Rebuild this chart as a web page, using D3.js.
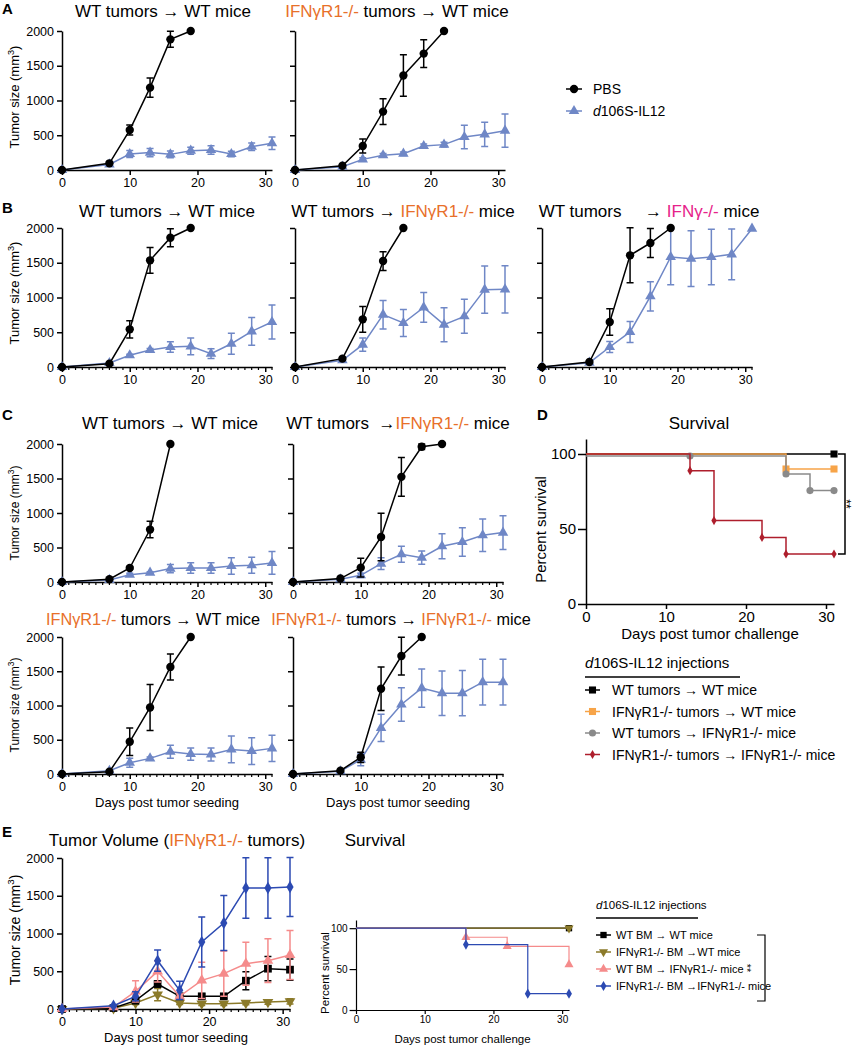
<!DOCTYPE html>
<html>
<head>
<meta charset="utf-8">
<script src="https://cdn.jsdelivr.net/npm/d3@7"></script>
<style>
  body { margin: 0; background: #fff; }
  svg { display: block; font-family: "Liberation Sans", Arial, sans-serif; }
</style>
</head>
<body>
<svg id="fig" width="854" height="1050"></svg>
<script>
// ---- data ----
const days = [0, 7, 10, 13, 16, 19, 22, 25, 28, 31];
const tumorTicksY = [0, 500, 1000, 1500, 2000];
const dayTicks = [0, 10, 20, 30];
const survTicks = [0, 50, 100];

// A: WT tumors -> WT mice / IFNgR1-/- tumors -> WT mice
const a1Pbs = [0, 96, 575, 1185, 1880, 2000];
const a1PbsErr = [0, 15, 72, 140, 115, 0];
const a1Trt = [0, 80, 230, 250, 225, 278, 288, 230, 335, 384];
const a1TrtErr = [0, 15, 50, 60, 50, 50, 60, 40, 55, 90];
const a2Pbs = [0, 62, 345, 840, 1360, 1675, 2000];
const a2PbsErr = [0, 10, 100, 185, 300, 200, 0];
const a2Trt = [0, 48, 153, 211, 235, 345, 365, 475, 513, 566];
const a2TrtErr = [0, 10, 25, 25, 25, 30, 35, 170, 175, 240];

// B
const b1Pbs = [0, 48, 542, 1535, 1860, 2000];
const b1PbsErr = [0, 10, 125, 185, 130, 0];
const b1Trt = [0, 58, 168, 245, 288, 297, 192, 335, 513, 647];
const b1TrtErr = [0, 10, 15, 20, 75, 120, 70, 150, 200, 245];
const b2Pbs = [0, 120, 686, 1525, 2000];
const b2PbsErr = [0, 15, 185, 135, 0];
const b2Trt = [0, 96, 321, 753, 633, 858, 609, 729, 1113, 1117];
const b2TrtErr = [0, 10, 95, 205, 195, 215, 245, 245, 340, 340];
const b3Pbs = [0, 72, 648, 1607, 1784, 2000];
const b3PbsErr = [0, 10, 190, 395, 210, 0];
const b3Trt = [0, 62, 288, 504, 1017, 1583, 1559, 1583, 1621, 1990];
const b3TrtErr = [0, 10, 80, 150, 210, 400, 400, 400, 365, 0];

// C
const c1Pbs = [0, 40, 203, 760, 2000];
const c1PbsErr = [0, 10, 20, 120, 0];
const c1Trt = [0, 30, 106, 135, 194, 203, 203, 232, 242, 276];
const c1TrtErr = [0, 10, 20, 15, 60, 75, 75, 120, 115, 165];
const c2Pbs = [0, 50, 208, 653, 1524, 1960, 2000];
const c2PbsErr = [0, 10, 135, 345, 280, 40, 0];
const c2Trt = [0, 40, 97, 266, 402, 353, 518, 580, 677, 716];
const c2TrtErr = [0, 10, 30, 85, 115, 95, 180, 205, 235, 245];
const c3Pbs = [0, 34, 470, 971, 1563, 2000];
const c3PbsErr = [0, 10, 200, 337, 190, 0];
const c3Trt = [0, 48, 165, 228, 325, 291, 286, 359, 335, 374];
const c3TrtErr = [0, 10, 65, 20, 95, 90, 95, 195, 195, 190];
const c4Pbs = [0, 49, 244, 1244, 1722, 2000];
const c4PbsErr = [0, 10, 75, 317, 275, 0];
const c4Trt = [0, 40, 210, 673, 1015, 1254, 1180, 1180, 1341, 1341];
const c4TrtErr = [0, 10, 90, 200, 245, 280, 325, 330, 335, 335];

// D: survival
const dBlackDays = [0, 31];
const dBlackPct = [100, 100];
const dOrangeDays = [0, 25, 31];
const dOrangePct = [100, 90, 90];
const dGrayDays = [0, 13, 25, 28, 31];
const dGrayPct = [98.7, 98.7, 86.7, 75.6, 75.6];
const dRedDays = [0, 13, 16, 22, 25, 31];
const dRedPct = [100, 88.9, 55.6, 44.4, 33.3, 33.3];
const dLegend = ['WT tumors → WT mice', 'IFNγR1-/- tumors → WT mice',
  'WT tumors → IFNγR1-/- mice', 'IFNγR1-/- tumors → IFNγR1-/- mice'];

// E: bone marrow chimeras, IFNgR1-/- tumors
const eWtWt = [0, 13, 110, 331, 168, 168, 168, 375, 534, 521];
const eWtWtErr = [0, 8, 30, 40, 30, 30, 30, 120, 160, 140];
const eKoWt = [0, 9, 80, 190, 80, 71, 71, 80, 93, 102];
const eKoWtErr = [0, 5, 20, 80, 20, 25, 25, 25, 30, 35];
const eWtKo = [0, 26, 234, 499, 168, 380, 468, 600, 640, 715];
const eWtKoErr = [0, 10, 140, 140, 30, 240, 300, 285, 290, 325];
const eKoKo = [0, 44, 168, 640, 247, 887, 1139, 1603, 1603, 1616];
const eKoKoErr = [0, 10, 60, 140, 120, 330, 365, 400, 400, 390];
const eSurvWtWtDays = [0, 31];
const eSurvWtWtPct = [100, 100];
const eSurvKoWtDays = [0, 31];
const eSurvKoWtPct = [100, 100];
const eSurvWtKoDays = [0, 16, 22, 31];
const eSurvWtKoPct = [100, 88.9, 77.8, 55.6];
const eSurvKoKoDays = [0, 16, 25, 31];
const eSurvKoKoPct = [100, 80, 20, 20];
const eLegend = ['WT BM → WT mice', 'IFNγR1-/- BM →WT mice',
  'WT BM → IFNγR1-/- mice', 'IFNγR1-/- BM →IFNγR1-/- mice'];

// ---- colours ----
const BLACK = '#000';
const BLUE = '#6f87c6';
const ORANGE = '#e8702a';
const MAGENTA = '#e6228a';
const D_ORANGE = '#f7a448';
const D_GRAY = '#8a8a8a';
const D_RED = '#ae1e2c';
const E_BLUE = '#2c4ab2';
const E_PINK = '#f58b8b';
const E_OLIVE = '#8b7a2a';

const svg = d3.select('#fig');

function styleAxis(sel, fontSize, width) {
  sel.select('.domain').attr('stroke', '#000').attr('stroke-width', width);
  sel.selectAll('.tick line').attr('stroke', '#000').attr('stroke-width', width);
  sel.selectAll('.tick text').attr('fill', '#000').attr('font-size', fontSize)
    .attr('font-family', '"Liberation Sans", Arial, sans-serif');
}

function richText(parent, x, y, parts, size, anchor) {
  const t = parent.append('text').attr('x', x).attr('y', y)
    .attr('font-size', size).attr('text-anchor', anchor || 'middle');
  parts.forEach(p => {
    const s = t.append('tspan').attr('fill', p[1] || BLACK).text(p[0]);
    if (p[2]) s.attr('font-style', 'italic');
  });
  return t;
}

function yTitle(x, y, size) {
  const t = svg.append('text').attr('transform', `translate(${x},${y}) rotate(-90)`)
    .attr('text-anchor', 'middle').attr('font-size', size);
  t.append('tspan').text('Tumor size (mm');
  t.append('tspan').attr('font-size', size * 0.7).attr('dy', -size * 0.4).text('3');
  t.append('tspan').attr('dy', size * 0.4).text(')');
}

function marker(sel, type, size, rot) {
  return sel.attr('d', d3.symbol(type, size)())
    .attr('transform', d => `translate(${d.px},${d.py}) rotate(${rot || 0})`);
}

function growthPlot(cfg) {
  const x = d3.scaleLinear().domain([0, 31]).range([cfg.left, cfg.right]);
  const y = d3.scaleLinear().domain([0, 2000]).range([cfg.bottom, cfg.top]);
  const g = svg.append('g');
  const fs = cfg.tickFont || 12.5;

  const ax = g.append('g').attr('transform', `translate(0,${cfg.bottom})`)
    .call(d3.axisBottom(x).tickValues(dayTicks).tickSize(5).tickSizeOuter(0).tickPadding(3));
  styleAxis(ax, fs, 1.5);
  if (cfg.minor !== false) {
    g.append('g').selectAll('line').data(d3.range(1, 32).filter(d => d % 10)).join('line')
      .attr('x1', d => x(d)).attr('x2', d => x(d))
      .attr('y1', cfg.bottom).attr('y2', cfg.bottom + 3)
      .attr('stroke', '#000').attr('stroke-width', 1.2);
  }

  const ay = g.append('g').attr('transform', `translate(${cfg.left},0)`)
    .call(d3.axisLeft(y).tickValues(tumorTicksY).tickSize(5).tickSizeOuter(0).tickPadding(3)
      .tickFormat(cfg.yLabels ? d => d : () => ''));
  styleAxis(ay, fs, 1.5);

  cfg.series.forEach(s => {
    const pts = s.values.map((v, i) => ({ d: days[i], v, e: s.errors[i], px: x(days[i]), py: y(v) }));
    const sg = g.append('g');
    const eb = pts.filter(p => p.e > 0);
    sg.selectAll('.eb').data(eb).join('path')
      .attr('d', p => {
        const y1 = y(p.v + p.e), y2 = y(Math.max(0, p.v - p.e)), c = 3.5;
        return `M${p.px},${y1}V${y2}M${p.px - c},${y1}H${p.px + c}M${p.px - c},${y2}H${p.px + c}`;
      })
      .attr('fill', 'none').attr('stroke', s.color).attr('stroke-width', 1.5);
    sg.append('path').datum(pts)
      .attr('d', d3.line().x(p => p.px).y(p => p.py))
      .attr('fill', 'none').attr('stroke', s.color).attr('stroke-width', 1.5);
    marker(sg.selectAll('.m').data(pts).join('path'), s.symbol, s.size || 50, s.rot)
      .attr('fill', s.color);
  });

  richText(svg, cfg.titleX, cfg.titleY, cfg.title, cfg.titleSize || 17);
  if (cfg.xTitle) {
    svg.append('text').attr('x', (cfg.left + cfg.right) / 2).attr('y', cfg.bottom + 33)
      .attr('text-anchor', 'middle').attr('font-size', 13).text('Days post tumor seeding');
  }
}

function twoSeries(pbs, pbsErr, trt, trtErr) {
  return [
    { values: trt, errors: trtErr, color: BLUE, symbol: d3.symbolTriangle, size: 48 },
    { values: pbs, errors: pbsErr, color: BLACK, symbol: d3.symbolCircle, size: 55 }
  ];
}

const arrow = ' → ';
const KO = 'IFNγR1-/-';
const NB = '\u00a0';

// ---- panel A ----
growthPlot({ left: 62, right: 272, top: 31, bottom: 170, yLabels: true, minor: false,
  title: [['WT tumors' + arrow + 'WT mice']], titleX: 163, titleY: 17,
  series: twoSeries(a1Pbs, a1PbsErr, a1Trt, a1TrtErr) });
growthPlot({ left: 295, right: 505, top: 31, bottom: 170, minor: false,
  title: [[KO, ORANGE], [' tumors' + arrow + 'WT mice']], titleX: 397, titleY: 17,
  series: twoSeries(a2Pbs, a2PbsErr, a2Trt, a2TrtErr) });
yTitle(19, 97, 13);

// legend A
const lg = svg.append('g');
[[BLACK, d3.symbolCircle, 55, 'PBS', 89], [BLUE, d3.symbolTriangle, 48, 'd106S-IL12', 111]].forEach(r => {
  lg.append('line').attr('x1', 566).attr('x2', 582).attr('y1', r[4]).attr('y2', r[4])
    .attr('stroke', r[0]).attr('stroke-width', 1.5);
  lg.append('path').attr('d', d3.symbol(r[1], r[2])()).attr('transform', `translate(574,${r[4]})`)
    .attr('fill', r[0]);
  const t = lg.append('text').attr('x', 593).attr('y', r[4] + 5).attr('font-size', 14);
  if (r[3] === 'PBS') t.text('PBS');
  else { t.append('tspan').attr('font-style', 'italic').text('d'); t.append('tspan').text('106S-IL12'); }
});

// ---- panel B ----
growthPlot({ left: 62, right: 272, top: 228, bottom: 367, yLabels: true,
  title: [['WT tumors' + arrow + 'WT mice']], titleX: 167, titleY: 217,
  series: twoSeries(b1Pbs, b1PbsErr, b1Trt, b1TrtErr) });
growthPlot({ left: 295, right: 505, top: 228, bottom: 367,
  title: [['WT tumors' + arrow], [KO, ORANGE], [' mice']], titleX: 403, titleY: 217,
  series: twoSeries(b2Pbs, b2PbsErr, b2Trt, b2TrtErr) });
growthPlot({ left: 542, right: 752, top: 228, bottom: 367,
  title: [['WT tumors' + NB.repeat(5) + '→' + NB], ['IFNγ-/-', MAGENTA], [' mice']], titleX: 649, titleY: 217,
  series: twoSeries(b3Pbs, b3PbsErr, b3Trt, b3TrtErr) });
yTitle(19, 293, 13);

// ---- panel C ----
growthPlot({ left: 62, right: 272, top: 444, bottom: 582, yLabels: true,
  title: [['WT tumors → WT mice']], titleX: 170, titleY: 429,
  series: twoSeries(c1Pbs, c1PbsErr, c1Trt, c1TrtErr) });
growthPlot({ left: 293, right: 503, top: 444, bottom: 582,
  title: [['WT tumors' + NB + ' →'], [KO, ORANGE], [' mice']], titleX: 398, titleY: 429,
  series: twoSeries(c2Pbs, c2PbsErr, c2Trt, c2TrtErr) });
growthPlot({ left: 62, right: 272, top: 637, bottom: 774, yLabels: true, xTitle: true,
  title: [[KO, ORANGE], [' tumors' + arrow + 'WT mice']], titleX: 153, titleY: 625, titleSize: 16.3,
  series: twoSeries(c3Pbs, c3PbsErr, c3Trt, c3TrtErr) });
growthPlot({ left: 293, right: 503, top: 637, bottom: 774, xTitle: true,
  title: [[KO, ORANGE], [' tumors' + arrow], [KO, ORANGE], [' mice']], titleX: 401, titleY: 625, titleSize: 16.3,
  series: twoSeries(c4Pbs, c4PbsErr, c4Trt, c4TrtErr) });
yTitle(19, 513, 12);
yTitle(19, 705, 12);

// ---- survival helper ----
function survivalPlot(cfg) {
  const x = d3.scaleLinear().domain([0, 31]).range([cfg.left, cfg.right]);
  const y = d3.scaleLinear().domain([0, 110]).range([cfg.bottom, cfg.top]);
  const g = svg.append('g');
  const ax = g.append('g').attr('transform', `translate(0,${cfg.bottom})`)
    .call(d3.axisBottom(x).tickValues(dayTicks).tickSize(cfg.tick).tickSizeOuter(0).tickPadding(2));
  styleAxis(ax, cfg.font, cfg.width);
  const ay = g.append('g').attr('transform', `translate(${cfg.left},0)`)
    .call(d3.axisLeft(y).tickValues(survTicks).tickSize(cfg.tick * 1.6).tickSizeOuter(0).tickPadding(2));
  styleAxis(ay, cfg.font, cfg.width);

  cfg.curves.forEach(c => {
    const pts = c.days.map((d, i) => ({ d, v: c.pct[i], px: x(d), py: y(c.pct[i]) }));
    g.append('path').datum(pts)
      .attr('d', d3.line().x(p => p.px).y(p => p.py).curve(d3.curveStepAfter))
      .attr('fill', 'none').attr('stroke', c.color).attr('stroke-width', cfg.width);
    marker(g.selectAll(null).data(pts.slice(1)).join('path'), c.symbol, c.size, c.rot)
      .attr('fill', c.color);
  });

  svg.append('text').attr('x', cfg.titleX).attr('y', cfg.titleY).attr('text-anchor', 'middle')
    .attr('font-size', 17).text('Survival');
  svg.append('text').attr('transform', `translate(${cfg.yLabX},${(cfg.top + cfg.bottom) / 2 + 8}) rotate(-90)`)
    .attr('text-anchor', 'middle').attr('font-size', cfg.labFont).text('Percent survival');
  svg.append('text').attr('x', (cfg.left + cfg.right) / 2).attr('y', cfg.xLabY)
    .attr('text-anchor', 'middle').attr('font-size', cfg.labFont).text('Days post tumor challenge');
  return y;
}

function survLegend(cfg, items) {
  const g = svg.append('g');
  const h = g.append('text').attr('x', cfg.x).attr('y', cfg.headY).attr('font-size', cfg.headFont);
  h.append('tspan').attr('font-style', 'italic').text('d');
  h.append('tspan').text('106S-IL12 injections');
  g.append('line').attr('x1', cfg.x).attr('x2', cfg.lineEnd).attr('y1', cfg.headY + 9).attr('y2', cfg.headY + 9)
    .attr('stroke', '#000').attr('stroke-width', 1.3);
  items.forEach((it, i) => {
    const yy = cfg.rowY + i * cfg.rowH;
    g.append('line').attr('x1', cfg.x).attr('x2', cfg.x + cfg.lineLen).attr('y1', yy).attr('y2', yy)
      .attr('stroke', it.color).attr('stroke-width', 1.5);
    g.append('path').attr('d', d3.symbol(it.symbol, it.size)())
      .attr('transform', `translate(${cfg.x + cfg.lineLen / 2},${yy}) rotate(${it.rot || 0})`)
      .attr('fill', it.color);
    const t = g.append('text').attr('x', cfg.x + cfg.lineLen + cfg.gap).attr('y', yy + cfg.font * 0.36)
      .attr('font-size', cfg.font);
    t.text(it.label);
  });
}

// ---- panel D ----
const dCurves = [
  { days: dBlackDays, pct: dBlackPct, color: BLACK, symbol: d3.symbolSquare, size: 50 },
  { days: dOrangeDays, pct: dOrangePct, color: D_ORANGE, symbol: d3.symbolSquare, size: 50 },
  { days: dGrayDays, pct: dGrayPct, color: D_GRAY, symbol: d3.symbolCircle, size: 40 },
  { days: dRedDays, pct: dRedPct, color: D_RED, symbol: d3.symbolDiamond, size: 24 }
];
const dy = survivalPlot({ left: 586, right: 834, top: 439, bottom: 604, tick: 5, width: 1.5,
  font: 15, labFont: 15, titleX: 699, titleY: 429, yLabX: 546, xLabY: 639, curves: dCurves });
svg.append('path')
  .attr('d', `M838,${dy(100)}H845V${dy(33.3)}H838`)
  .attr('fill', 'none').attr('stroke', '#000').attr('stroke-width', 1.5);
svg.append('text').attr('transform', `translate(842,${(dy(100) + dy(33.3)) / 2}) rotate(90)`)
  .attr('text-anchor', 'middle').attr('font-size', 12).text('**');
survLegend({ x: 585, headY: 668, lineEnd: 740, headFont: 15, rowY: 690, rowH: 21.5,
  lineLen: 15, gap: 12, font: 14 },
  dCurves.map((c, i) => Object.assign({}, c, { label: dLegend[i] })));

// ---- panel E ----
const eSeries = [
  { values: eKoWt, errors: eKoWtErr, color: E_OLIVE, symbol: d3.symbolTriangle, size: 50, rot: 180 },
  { values: eWtWt, errors: eWtWtErr, color: BLACK, symbol: d3.symbolSquare, size: 60 },
  { values: eWtKo, errors: eWtKoErr, color: E_PINK, symbol: d3.symbolTriangle, size: 50 },
  { values: eKoKo, errors: eKoKoErr, color: E_BLUE, symbol: d3.symbolDiamond, size: 45 }
];
growthPlot({ left: 62, right: 290, top: 858, bottom: 1009, yLabels: true, xTitle: true,
  title: [['Tumor Volume ('], [KO, ORANGE], [' tumors)']], titleX: 177, titleY: 846,
  series: eSeries });
yTitle(20, 930, 14);

const eCurves = [
  { days: eSurvWtWtDays, pct: eSurvWtWtPct, color: BLACK, symbol: d3.symbolSquare, size: 40 },
  { days: eSurvKoWtDays, pct: eSurvKoWtPct, color: E_OLIVE, symbol: d3.symbolTriangle, size: 36, rot: 180 },
  { days: eSurvWtKoDays, pct: eSurvWtKoPct, color: E_PINK, symbol: d3.symbolTriangle, size: 36 },
  { days: eSurvKoKoDays, pct: eSurvKoKoPct, color: E_BLUE, symbol: d3.symbolDiamond, size: 30 }
];
survivalPlot({ left: 356, right: 569, top: 920, bottom: 1010, tick: 4, width: 1.2,
  font: 10, labFont: 11.5, titleX: 375, titleY: 846, yLabX: 329, xLabY: 1043, curves: eCurves });
survLegend({ x: 596, headY: 909, lineEnd: 698, headFont: 11.5, rowY: 935, rowH: 17,
  lineLen: 15, gap: 5, font: 11 },
  eCurves.map((c, i) => Object.assign({}, c, { label: eLegend[i] })));
svg.append('path').attr('d', 'M757,935H765V1001H757')
  .attr('fill', 'none').attr('stroke', '#000').attr('stroke-width', 1.2);
svg.append('text').attr('transform', 'translate(743,968) rotate(90)')
  .attr('text-anchor', 'middle').attr('font-size', 11).text('**');

// ---- panel letters ----
[['A', 2, 14], ['B', 2, 213], ['C', 2, 420], ['D', 537, 420], ['E', 2, 837]].forEach(l => {
  svg.append('text').attr('x', l[1]).attr('y', l[2]).attr('font-size', 15)
    .attr('font-weight', 'bold').text(l[0]);
});
</script>
</body>
</html>
